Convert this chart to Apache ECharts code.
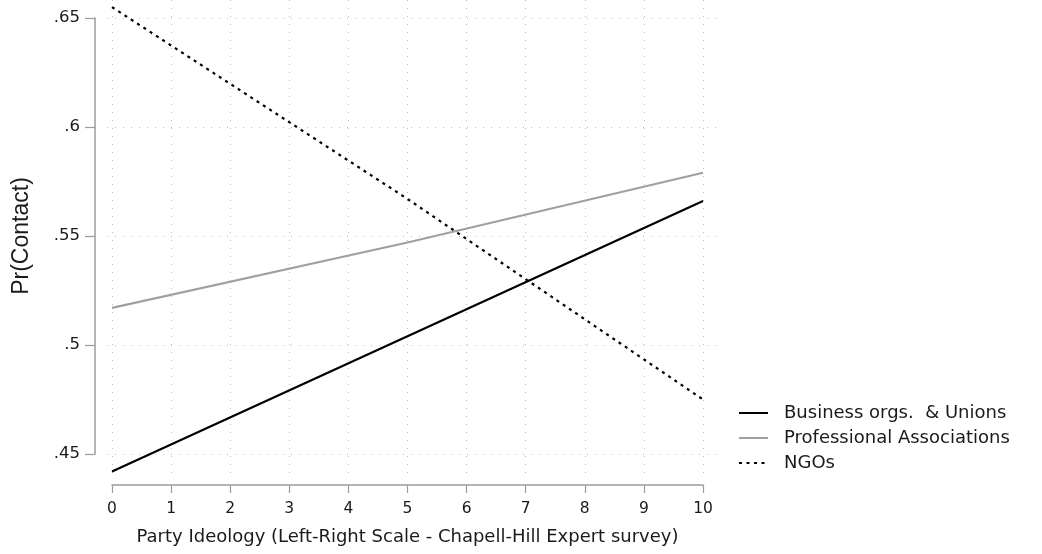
<!DOCTYPE html>
<html><head><meta charset="utf-8">
<script src="https://cdn.jsdelivr.net/npm/echarts@6/dist/echarts.min.js"></script>
<style>html,body{margin:0;padding:0;background:#fff}#c{width:1042px;height:554px}</style>
</head><body><div id="c"></div>
<script>
// Data
const xValues = [0, 5, 10];
const business = [0.442, 0.504, 0.566];
const professional = [0.517, 0.547, 0.579];
const ngos = [0.655, 0.567, 0.475];
const xTicks = {min: 0, max: 10, interval: 1};
const yTicks = {min: 0.45, max: 0.65, interval: 0.05};
const seriesNames = ['Business orgs.  & Unions', 'Professional Associations', 'NGOs'];
const xTitle = 'Party Ideology (Left-Right Scale - Chapell-Hill Expert survey)';
const yTitle = 'Pr(Contact)';

const pairs = arr => xValues.map((x, i) => [x, arr[i]]);
const fmtY = v => { let s = (+v.toFixed(2)).toString(); return s.replace(/^0\./, '.'); };
const txt = '#1a1a1a';
const gridDot = {show: true, lineStyle: {color: '#bdbdbd', type: [1, 7], width: 1}};
const hidden = {show: false};

const chart = echarts.init(document.getElementById('c'), null, {renderer: 'canvas'});
chart.setOption({
  animation: false,
  backgroundColor: '#fff',
  grid: [
    {left: 112, top: 18, width: 591, height: 436, containLabel: false},   // core
    {left: 112, top: 0, width: 591, height: 480, containLabel: false},    // vertical grid lines
    {left: 107, top: 18, width: 616, height: 436, containLabel: false}    // horizontal grid lines
  ],
  xAxis: [
    {gridIndex: 0, type: 'value', min: xTicks.min, max: xTicks.max, interval: xTicks.interval,
     offset: 31, position: 'bottom',
     axisLine: {show: true, onZero: false, lineStyle: {color: '#9c9c9c', width: 1.5}},
     axisTick: {show: true, length: 8, lineStyle: {color: '#9c9c9c', width: 1.2}},
     axisLabel: {color: txt, fontFamily: 'DejaVu Sans', fontSize: 15.5, margin: 16},
     splitLine: hidden,
     name: xTitle, nameLocation: 'middle', nameGap: 43,
     nameTextStyle: {color: txt, fontFamily: 'DejaVu Sans', fontSize: 18}},
    {gridIndex: 1, type: 'value', min: xTicks.min, max: xTicks.max, interval: xTicks.interval,
     axisLine: hidden, axisTick: hidden, axisLabel: hidden, splitLine: gridDot},
    {gridIndex: 2, type: 'value', min: 0, max: 1, show: false, splitLine: hidden}
  ],
  yAxis: [
    {gridIndex: 0, type: 'value', min: yTicks.min, max: yTicks.max, interval: yTicks.interval,
     offset: 17, position: 'left',
     axisLine: {show: true, onZero: false, lineStyle: {color: '#9c9c9c', width: 1.5}},
     axisTick: {show: true, length: 10, lineStyle: {color: '#9c9c9c', width: 1.2}},
     axisLabel: {color: txt, fontFamily: 'DejaVu Sans', fontSize: 16.5, margin: 15, formatter: fmtY},
     splitLine: hidden,
     name: yTitle, nameLocation: 'middle', nameGap: 62,
     nameTextStyle: {color: txt, fontFamily: 'Liberation Sans', fontSize: 23}},
    {gridIndex: 1, type: 'value', min: 0, max: 1, show: false, splitLine: hidden},
    {gridIndex: 2, type: 'value', min: yTicks.min, max: yTicks.max, interval: yTicks.interval,
     axisLine: hidden, axisTick: hidden, axisLabel: hidden, splitLine: gridDot}
  ],
  legend: {
    orient: 'vertical', left: 738, top: 404, padding: 0,
    itemWidth: 29, itemHeight: 14, itemGap: 7,
    itemStyle: {opacity: 0},
    textStyle: {color: txt, fontFamily: 'DejaVu Sans', fontSize: 18, padding: [0, 0, 0, 11]},
    data: seriesNames
  },
  series: [
    {name: seriesNames[0], type: 'line', xAxisIndex: 0, yAxisIndex: 0, data: pairs(business),
     showSymbol: false, symbol: 'none', clip: false, color: '#000',
     lineStyle: {color: '#000', width: 2.2}},
    {name: seriesNames[1], type: 'line', xAxisIndex: 0, yAxisIndex: 0, data: pairs(professional),
     showSymbol: false, symbol: 'none', clip: false, color: '#a0a0a0',
     lineStyle: {color: '#a0a0a0', width: 2.2}},
    {name: seriesNames[2], type: 'line', xAxisIndex: 0, yAxisIndex: 0, data: pairs(ngos),
     showSymbol: false, symbol: 'none', clip: false, color: '#000',
     lineStyle: {color: '#000', width: 2.2, type: [3, 4.5]}}
  ]
});
</script></body></html>
